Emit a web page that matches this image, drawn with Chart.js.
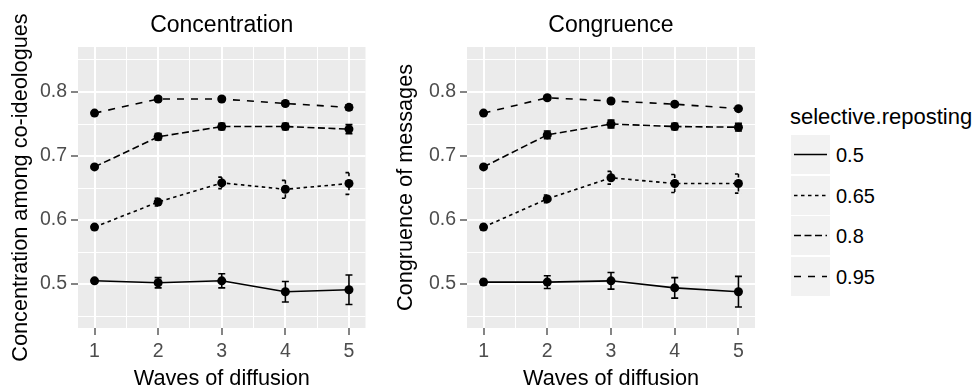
<!DOCTYPE html>
<html>
<head>
<meta charset="utf-8">
<script src="https://cdn.jsdelivr.net/npm/chart.js@4.4.1/dist/chart.umd.min.js"></script>
<style>
  body { margin: 0; background: #fff; font-family: "Liberation Sans", Arial, sans-serif; }
  #wrap { position: relative; width: 974px; height: 392px; overflow: hidden; }
  .panel { position: absolute; top: 0; width: 380px; height: 392px; }
  #legend-title { position: absolute; left: 790px; top: 106px; font-size: 22px; line-height: 22px; color: #000; }
  .key { position: absolute; left: 791px; width: 39px; height: 39px; background: #F2F2F2; }
  .key-label { position: absolute; left: 836px; font-size: 20px; line-height: 20px; color: #000; }
</style>
</head>
<body>
<div id="wrap">
  <div class="panel" style="left:0"><canvas id="conc"></canvas></div>
  <div class="panel" style="left:380px"><canvas id="cong"></canvas></div>
  <div id="legend-title">selective.reposting</div>
</div>
<script>
// DATA

let waves = [1, 2, 3, 4, 5];
let levels = ["0.5", "0.65", "0.8", "0.95"];

// Concentration among co-ideologues
let conc05  = [0.505, 0.502, 0.505, 0.488, 0.491];
let conc065 = [0.589, 0.628, 0.658, 0.648, 0.657];
let conc08  = [0.683, 0.730, 0.746, 0.746, 0.742];
let conc095 = [0.767, 0.789, 0.789, 0.782, 0.776];
let concErr05  = [0.003, 0.008, 0.011, 0.016, 0.023];
let concErr065 = [0.003, 0.006, 0.009, 0.014, 0.017];
let concErr08  = [0.002, 0.005, 0.005, 0.005, 0.007];
let concErr095 = [0.002, 0.003, 0.003, 0.003, 0.004];

// Congruence of messages
let cong05  = [0.503, 0.503, 0.505, 0.494, 0.488];
let cong065 = [0.589, 0.633, 0.666, 0.657, 0.657];
let cong08  = [0.683, 0.733, 0.750, 0.746, 0.745];
let cong095 = [0.767, 0.791, 0.786, 0.781, 0.774];
let congErr05  = [0.004, 0.010, 0.013, 0.016, 0.024];
let congErr065 = [0.004, 0.006, 0.010, 0.014, 0.015];
let congErr08  = [0.003, 0.006, 0.006, 0.005, 0.006];
let congErr095 = [0.002, 0.003, 0.003, 0.003, 0.003];

let yTicks = [0.45, 0.5, 0.55, 0.6, 0.65, 0.7, 0.75, 0.8, 0.85];
let xTicks = [1, 1.5, 2, 2.5, 3, 3.5, 4, 4.5, 5];

// STYLE

let dashes = [[], [3.5, 3.5], [7, 3.5], [7, 7]];
let FONT = "'Liberation Sans', Arial, sans-serif";

function isMajor(v, step) {
	return Math.abs(v / step - Math.round(v / step)) < 1e-6;
}

// grey panel behind the grid, and the panel title centred over it
let panelBg = {
	id: 'panelBg',
	beforeDraw: function(chart) {
		let a = chart.chartArea;
		let ctx = chart.ctx;
		ctx.save();
		ctx.fillStyle = '#EBEBEB';
		ctx.fillRect(a.left, a.top, a.right - a.left, a.bottom - a.top);
		ctx.restore();
	},
	afterDraw: function(chart) {
		let a = chart.chartArea;
		let ctx = chart.ctx;
		ctx.save();
		ctx.fillStyle = '#000';
		ctx.font = "23px " + FONT;
		ctx.textAlign = 'center';
		ctx.textBaseline = 'middle';
		ctx.fillText(chart.options.panelTitle, (a.left + a.right) / 2, 25.4);
		ctx.restore();
	}
};

// error bars, drawn from the scales
let errorBars = {
	id: 'errorBars',
	beforeDatasetsDraw: function(chart) {
		let ctx = chart.ctx;
		let xs = chart.scales.x, ys = chart.scales.y;
		chart.data.datasets.forEach(function(ds) {
			ctx.save();
			ctx.strokeStyle = '#000';
			ctx.lineWidth = 1.6;
			ctx.setLineDash(ds.borderDash || []);
			ds.data.forEach(function(p, i) {
				let e = ds.errors[i];
				let x = xs.getPixelForValue(p.x);
				let x0 = xs.getPixelForValue(p.x - 0.055);
				let x1 = xs.getPixelForValue(p.x + 0.055);
				let yl = ys.getPixelForValue(p.y - e);
				let yh = ys.getPixelForValue(p.y + e);
				ctx.beginPath();
				ctx.moveTo(x0, yh); ctx.lineTo(x1, yh);
				ctx.moveTo(x, yh); ctx.lineTo(x, yl);
				ctx.moveTo(x0, yl); ctx.lineTo(x1, yl);
				ctx.stroke();
			});
			ctx.restore();
		});
	}
};

function makePanel(id, title, yTitle, series, errors, yWidth, yTitlePad, padRight) {
	let datasets = [];
	for (let s = 0; s < series.length; s++) {
		datasets.push({
			label: levels[s],
			data: waves.map(function(w, i) { return {x: w, y: series[s][i]}; }),
			errors: errors[s],
			borderColor: '#000',
			backgroundColor: '#000',
			borderWidth: 1.6,
			borderDash: dashes[s],
			pointRadius: 4.5,
			pointBorderWidth: 0,
			tension: 0
		});
	}

	return new Chart(document.getElementById(id), {
		type: 'line',
		data: { datasets: datasets },
		plugins: [panelBg, errorBars],
		options: {
			panelTitle: title,
			responsive: true,
			maintainAspectRatio: false,
			animation: false,
			layout: { padding: { left: 0, right: padRight, top: 47, bottom: 0 } },
			plugins: {
				legend: { display: false },
				tooltip: { enabled: false },
				title: { display: false }
			},
			scales: {
				x: {
					type: 'linear',
					min: 0.74,
					max: 5.26,
					afterBuildTicks: function(scale) {
						scale.ticks = xTicks.map(function(v) { return {value: v}; });
					},
					afterFit: function(scale) { scale.height = 64; },
					border: { display: false },
					grid: {
						color: '#fff',
						lineWidth: function(c) { return isMajor(c.tick.value, 1) ? 2 : 1; },
						tickColor: function(c) { return isMajor(c.tick.value, 1) ? '#333' : 'rgba(0,0,0,0)'; },
						tickWidth: 1.2,
						tickLength: 7
					},
					ticks: {
						autoSkip: false,
						maxRotation: 0,
						padding: 4.5,
						color: '#4D4D4D',
						font: { family: FONT, size: 19.5 },
						callback: function(v) { return isMajor(v, 1) ? String(v) : ''; }
					},
					title: {
						display: true,
						text: 'Waves of diffusion',
						color: '#000',
						font: { family: FONT, size: 21.7 },
						padding: { top: 0, bottom: 0 }
					}
				},
				y: {
					type: 'linear',
					min: 0.4313,
					max: 0.8703,
					afterBuildTicks: function(scale) {
						scale.ticks = yTicks.map(function(v) { return {value: v}; });
					},
					afterFit: function(scale) { scale.width = yWidth; },
					border: { display: false },
					grid: {
						color: '#fff',
						lineWidth: function(c) { return isMajor(c.tick.value, 0.1) ? 2 : 1; },
						tickColor: function(c) { return isMajor(c.tick.value, 0.1) ? '#333' : 'rgba(0,0,0,0)'; },
						tickWidth: 1.2,
						tickLength: 7
					},
					ticks: {
						autoSkip: false,
						padding: 4,
						color: '#4D4D4D',
						font: { family: FONT, size: 19.5 },
						callback: function(v) { return isMajor(v, 0.1) ? v.toFixed(1) : ''; }
					},
					title: {
						display: true,
						text: yTitle,
						color: '#000',
						font: { family: FONT, size: 21.7 },
						padding: { top: yTitlePad, bottom: 0 }
					}
				}
			}
		}
	});
}

makePanel('conc', 'Concentration', 'Concentration among co-ideologues',
	[conc05, conc065, conc08, conc095],
	[concErr05, concErr065, concErr08, concErr095],
	78, 7.9, 14.5);

makePanel('cong', 'Congruence', 'Congruence of messages',
	[cong05, cong065, cong08, cong095],
	[congErr05, congErr065, congErr08, congErr095],
	87, 13, 5);

// LEGEND (shared, built from the same levels and dash styles)
let wrap = document.getElementById('wrap');
let keyTops = [135, 175.5, 216, 256.5];
levels.forEach(function(lv, i) {
	let key = document.createElement('div');
	key.className = 'key';
	key.style.top = keyTops[i] + 'px';
	key.innerHTML = '<svg width="39" height="39"><line x1="3" y1="19.5" x2="36" y2="19.5" stroke="#000" stroke-width="1.5" stroke-dasharray="' +
		(dashes[i].length ? dashes[i].join(',') : 'none') + '"/></svg>';
	wrap.appendChild(key);

	let lab = document.createElement('div');
	lab.className = 'key-label';
	lab.style.top = (keyTops[i] + 10) + 'px';
	lab.textContent = lv;
	wrap.appendChild(lab);
});
</script>
</body>
</html>
